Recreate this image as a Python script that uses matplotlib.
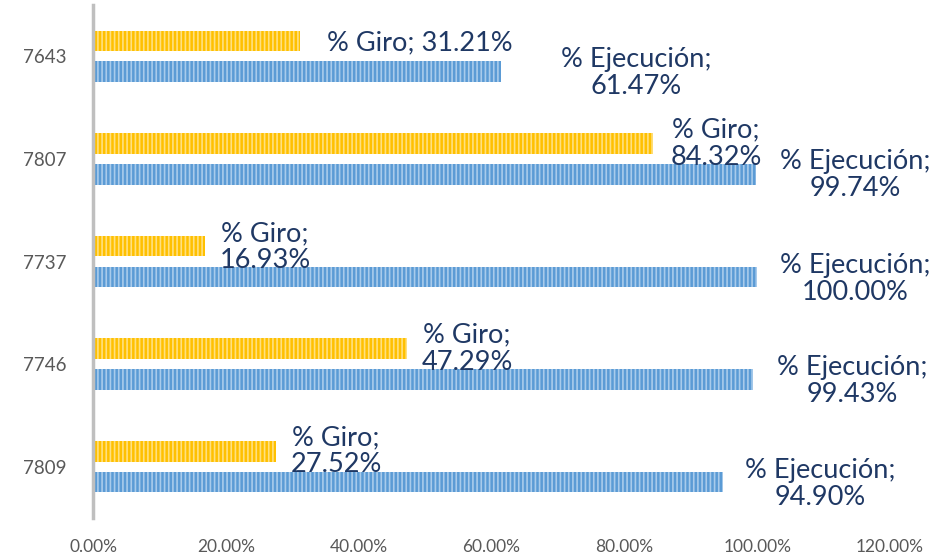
import matplotlib
matplotlib.use('Agg')
import matplotlib.pyplot as plt
import numpy as np

plt.rcParams['font.family'] = ['Lato', 'DejaVu Sans']
plt.rcParams['hatch.linewidth'] = 1.2

# data
codes = ['7643', '7807', '7737', '7746', '7809']
giro = [0.3121, 0.8432, 0.1693, 0.4729, 0.2752]
ejec = [0.6147, 0.9974, 1.0000, 0.9943, 0.9490]
xticks = [0, 0.2, 0.4, 0.6, 0.8, 1.0, 1.2]

# label positions (data coords), as Excel placed them
giro_lbl_xy = [(0.492, -0.13), (0.938, 0.85), (0.259, 1.86), (0.563, 2.85), (0.366, 3.85)]
ejec_lbl_xy = [(0.818, 0.165), (1.148, 1.16), (1.148, 2.17), (1.143, 3.16), (1.095, 4.17)]
giro_single_line = [True, False, False, False, False]

fig = plt.figure(figsize=(9.53, 5.59), dpi=100)
ax = fig.add_axes([0.0976, 0.0733, 0.8364, 0.9177])

y = np.arange(len(codes))
h = 0.2
ax.barh(y - 0.15, giro, height=h, color='#FFC000', edgecolor='#FFE080',
        linewidth=0, hatch='||||')
ax.barh(y + 0.15, ejec, height=h, color='#5B9BD5', edgecolor='#A9CBEB',
        linewidth=0, hatch='||||')

navy = '#1F3864'
for i in range(len(codes)):
    gx, gy = giro_lbl_xy[i]
    if giro_single_line[i]:
        s = '%% Giro; %.2f%%' % (giro[i] * 100)
    else:
        s = '%% Giro;\n%.2f%%' % (giro[i] * 100)
    ax.text(gx, gy, s, ha='center', va='center', fontsize=19.5, color=navy,
            linespacing=1.1, zorder=5)
    ex, ey = ejec_lbl_xy[i]
    ax.text(ex, ey, '%% Ejecución;\n%.2f%%' % (ejec[i] * 100), ha='center',
            va='center', fontsize=19.5, color=navy, linespacing=1.1, zorder=5,
            clip_on=False)

ax.set_xlim(0, 1.2)
ax.set_ylim(len(codes) - 0.5, -0.5)
ax.set_yticks(y)
ax.set_yticklabels(codes)
ax.set_xticks(xticks)
ax.set_xticklabels(['%.2f%%' % (v * 100) for v in xticks])
ax.tick_params(length=0, labelsize=12.5, colors='#595959')
ax.tick_params(axis='x', pad=15)
ax.tick_params(axis='y', pad=19, labelsize=13.5)
for s in ['top', 'right', 'bottom']:
    ax.spines[s].set_visible(False)
ax.spines['left'].set_color('#BFBFBF')
ax.spines['left'].set_linewidth(2.5)

fig.savefig('out.png', dpi=100)
